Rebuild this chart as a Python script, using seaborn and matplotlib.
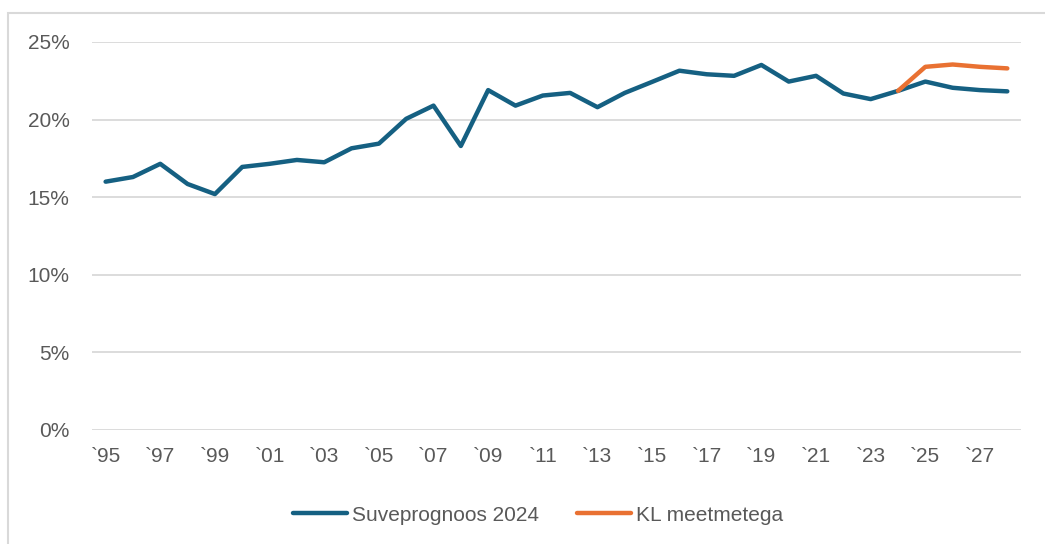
import numpy as np
import pandas as pd
import seaborn as sns
import matplotlib
matplotlib.use("Agg")
import matplotlib.pyplot as plt
from matplotlib.patches import Rectangle
from matplotlib.ticker import PercentFormatter

# andmed loetud pildilt
years = list(range(1995, 2029))
suveprognoos = [16.0, 16.3, 17.15, 15.85, 15.2, 16.95, 17.15, 17.4, 17.25, 18.15,
                18.45, 20.05, 20.9, 18.3, 21.9, 20.9, 21.55, 21.72, 20.8, 21.72,
                22.43, 23.15, 22.92, 22.82, 23.52, 22.45, 22.82, 21.68, 21.32, 21.85,
                22.45, 22.05, 21.9, 21.82]
kl_years = [2024, 2025, 2026, 2027, 2028]
kl_meetmetega = [21.85, 23.4, 23.55, 23.4, 23.3]
tick_years = list(range(1995, 2028, 2))
tick_labels = ["`" + str(y)[2:] for y in tick_years]

df = pd.concat([
    pd.DataFrame({"aasta": years, "osakaal": np.array(suveprognoos) / 100, "seeria": "Suveprognoos 2024"}),
    pd.DataFrame({"aasta": kl_years, "osakaal": np.array(kl_meetmetega) / 100, "seeria": "KL meetmetega"}),
])

sns.set_style("white")
plt.rcParams["font.family"] = ["Liberation Sans", "DejaVu Sans"]

fig = plt.figure(figsize=(10.45, 5.44), dpi=100)
# hall raam ümber diagrammi (vasak ja ülemine serv on nähtaval)
fig.patches.append(Rectangle((8 / 1045, -0.05), 1.1, 1 - 13 / 544 + 0.05,
                             transform=fig.transFigure, fill=False,
                             edgecolor="#d9d9d9", linewidth=1.5))
ax = fig.add_axes([0.088, 0.2096, 0.889, 0.7132])

sns.lineplot(data=df, x="aasta", y="osakaal", hue="seeria",
             palette={"Suveprognoos 2024": "#156082", "KL meetmetega": "#E97132"},
             linewidth=3.2, ax=ax, legend=False, solid_capstyle="round")

ax.set_xlim(1994.5, 2028.5)
ax.set_ylim(0, 0.25)
ax.set_yticks(np.arange(0, 0.26, 0.05))
ax.yaxis.set_major_formatter(PercentFormatter(1.0, decimals=0))
ax.set_xticks(tick_years)
ax.set_xticklabels(tick_labels)
ax.grid(axis="y", color="#d9d9d9", linewidth=1.3)
ax.set_axisbelow(True)
for s in ax.spines.values():
    s.set_visible(False)
ax.tick_params(axis="both", length=0, labelsize=15, colors="#595959")
ax.tick_params(axis="y", pad=16)
ax.tick_params(axis="x", pad=12)
ax.set_xlabel("")
ax.set_ylabel("")

handles = [plt.Line2D([], [], color="#156082", linewidth=3.2, solid_capstyle="round"),
           plt.Line2D([], [], color="#E97132", linewidth=3.2, solid_capstyle="round")]
fig.legend(handles, ["Suveprognoos 2024", "KL meetmetega"], loc="center",
           bbox_to_anchor=(0.515, 0.053), ncol=2, frameon=False, fontsize=15,
           labelcolor="#595959", handlelength=2.6, handletextpad=0.25, columnspacing=1.8)

fig.savefig("out.png", dpi=100)
